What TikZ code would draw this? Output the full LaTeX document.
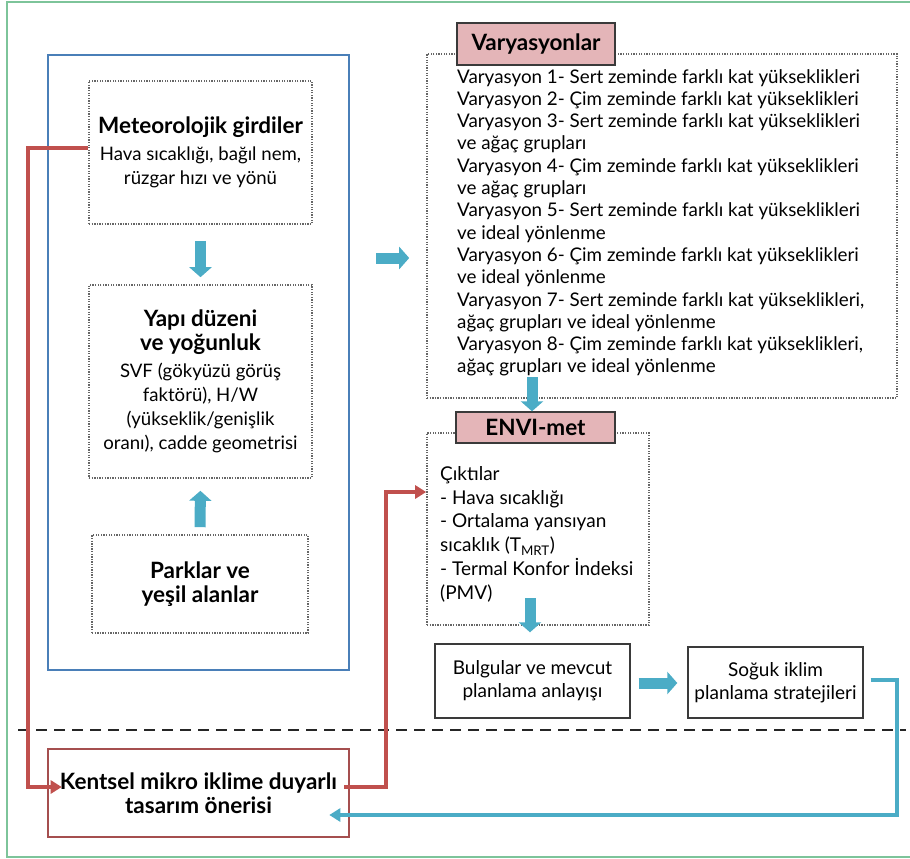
\documentclass[tikz,border=0pt]{standalone}
\usepackage{fontspec}
\setmainfont{Lato}
\usetikzlibrary{arrows.meta,calc}
\definecolor{framegreen}{HTML}{7DC49A}
\definecolor{boxblue}{HTML}{4A7FB8}
\definecolor{linered}{HTML}{C0504D}
\definecolor{kentred}{HTML}{A54F4F}
\definecolor{teal}{HTML}{4BACC6}
\definecolor{pinkfill}{HTML}{E4B5B8}
\definecolor{dotgray}{HTML}{666666}
\definecolor{boxgray}{HTML}{3A3A3A}
\tikzset{
  bodyfont/.style={font=\fontsize{18.6}{24}\selectfont},
  dotbox/.style={draw=dotgray, line width=1.6pt, dash pattern=on 1.3pt off 1.3pt, inner sep=0pt},
  solidbox/.style={draw=boxgray, line width=1.4pt, inner sep=0pt, align=center, font=\fontsize{19}{23}\selectfont},
  labelbox/.style={draw=boxgray, line width=1.4pt, fill=pinkfill, inner sep=0pt, font=\bfseries\fontsize{22.5}{24}\selectfont},
  blk/.style={draw=teal, line width=11pt, -{Triangle[width=22pt,length=10pt]}},
  redline/.style={draw=linered, line width=4pt, line join=miter},
  tealline/.style={draw=teal, line width=4pt},
}
\newcommand{\ttl}{\bfseries\fontsize{22.5}{25}\selectfont}
\begin{document}
\begin{tikzpicture}[x=1pt,y=-1pt]
\useasboundingbox (0,0) rectangle (910,859);
% outer frame
\draw[framegreen, line width=1.6pt] (7,2) rectangle (915,857);
% blue group box
\node[draw=boxblue, line width=2.6pt, minimum width=301pt, minimum height=615pt, inner sep=0pt] (blue) at (198.5,362.5) {};
% left column boxes
\node[dotbox, minimum width=223pt, minimum height=143pt, align=center, bodyfont] (met) at (200.5,152.5)
  {{\ttl Meteorolojik girdiler}\\[3pt]Hava sıcaklığı, bağıl nem,\\rüzgar hızı ve yönü};
\node[dotbox, minimum width=223pt, minimum height=193pt, align=center, bodyfont] (yapi) at (200.5,381.5)
  {{\ttl Yapı düzeni}\\{\ttl ve yoğunluk}\\[3pt]SVF (gökyüzü görüş\\faktörü), H/W\\(yükseklik/genişlik\\oranı), cadde geometrisi};
\node[dotbox, minimum width=216pt, minimum height=98pt, align=center, bodyfont] (park) at (200,584)
  {{\ttl Parklar ve}\\{\ttl yeşil alanlar}};
\node[draw=kentred, line width=2.6pt, minimum width=301pt, minimum height=88pt, inner sep=0pt, align=center, bodyfont] (kent) at (198.5,793)
  {{\ttl Kentsel mikro iklime duyarlı}\\{\ttl tasarım önerisi}};
% dashed separator
\coordinate (d1) at (18,730);
\coordinate (d2) at (906,730);
\draw[black!85, line width=2pt, dash pattern=on 11pt off 7pt] (d1) -- (d2);
% Varyasyonlar
\node[dotbox, minimum width=470pt, minimum height=344pt] (vbox) at (662,226) {};
\node[labelbox, minimum width=158pt, minimum height=42pt] (vlabel) at (536,44) {Varyasyonlar};
\node[anchor=north west, inner sep=0pt, align=left, font=\fontsize{18.8}{22.3}\selectfont] (vtext) at (457,69)
  {Varyasyon 1- Sert zeminde farklı kat yükseklikleri\\
   Varyasyon 2- Çim zeminde farklı kat yükseklikleri\\
   Varyasyon 3- Sert zeminde farklı kat yükseklikleri\\
   ve ağaç grupları\\
   Varyasyon 4- Çim zeminde farklı kat yükseklikleri\\
   ve ağaç grupları\\
   Varyasyon 5- Sert zeminde farklı kat yükseklikleri\\
   ve ideal yönlenme\\
   Varyasyon 6- Çim zeminde farklı kat yükseklikleri\\
   ve ideal yönlenme\\
   Varyasyon 7- Sert zeminde farklı kat yükseklikleri,\\
   ağaç grupları ve ideal yönlenme\\
   Varyasyon 8- Çim zeminde farklı kat yükseklikleri,\\
   ağaç grupları ve ideal yönlenme};
% ENVI-met
\node[dotbox, minimum width=222pt, minimum height=192pt] (ebox) at (538,529) {};
\node[labelbox, minimum width=159pt, minimum height=31pt] (elabel) at (535.5,427.5) {ENVI-met};
\node[anchor=north west, inner sep=0pt, align=left, font=\fontsize{19}{23.8}\selectfont] (etext) at (440,466)
  {Çıktılar\\
   - Hava sıcaklığı\\
   - Ortalama yansıyan\\
   sıcaklık (T\textsubscript{MRT})\\
   - Termal Konfor İndeksi\\
   (PMV)};
% bottom right boxes
\node[solidbox, minimum width=195pt, minimum height=74pt] (bulg) at (532.5,681) {Bulgular ve mevcut\\planlama anlayışı};
\node[solidbox, minimum width=175pt, minimum height=71pt] (soguk) at (775.5,682.5) {Soğuk iklim\\planlama stratejileri};
% block arrows
\coordinate (a3) at (0,258);
\coordinate (a4) at (532,377);
\coordinate (a5) at (530,598);
\coordinate (a6) at (0,683);
\draw[blk, shorten <=16pt, shorten >=7pt] (met.south) -- (yapi.north);
\draw[blk, shorten <=7pt, shorten >=12pt] (park.north) -- (yapi.south);
\draw[blk, shorten <=26pt, shorten >=17pt] (blue.east |- a3) -- (vbox.west |- a3);
\draw[blk] (a4) -- (elabel.north -| a4);
\draw[blk, shorten >=11pt] (a5) -- (bulg.north -| a5);
\draw[blk, shorten <=8pt, shorten >=10pt] (bulg.east |- a6) -- (soguk.west |- a6);
% red connectors
\coordinate (r1) at (28,148);
\coordinate (r2) at (28,787);
\coordinate (r3) at (386,787);
\coordinate (r4) at (386,492);
\draw[redline, -{Triangle[width=13pt,length=11pt]}] (met.west |- r1) -- (r1) -- (r2) -- ([xshift=15pt]kent.west |- r2);
\draw[redline, -{Triangle[width=13pt,length=11pt]}] ([xshift=-6pt]kent.east |- r3) -- (r3) -- (r4) -- (ebox.west |- r4);
% teal feedback
\coordinate (t1) at (897,680);
\coordinate (t2) at (897,815);
\draw[tealline, -{Triangle[width=13pt,length=11pt]}] ([xshift=7pt]soguk.east |- t1) -- (t1) -- (t2) -- ([xshift=-21pt]kent.east |- t2);
\end{tikzpicture}
\end{document}
